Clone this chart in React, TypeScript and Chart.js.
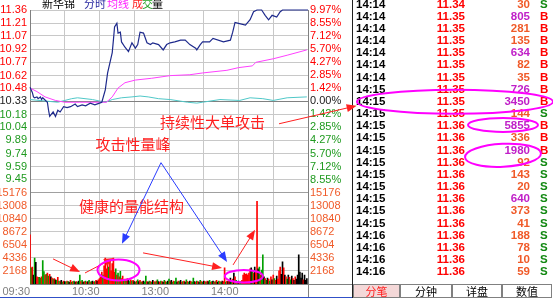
import React, { useEffect, useRef } from "react";
import { Chart, registerables } from "chart.js";

Chart.register(...registerables);

// ---------- data ----------
const PREV_CLOSE = 10.33;
const PRICE_MIN = 9.3;
const PRICE_MAX = 11.36;
const PCT_LIMIT = 9.97;
const VOL_MAX = 15176;

const priceTicks = [11.36, 11.21, 11.07, 10.92, 10.77, 10.62, 10.48, 10.33, 10.18, 10.04, 9.89, 9.74, 9.59, 9.45];
const pctTicks = [9.97, 8.55, 7.12, 5.7, 4.27, 2.85, 1.42, 0, -1.42, -2.85, -4.27, -5.7, -7.12, -8.55];
const volTicks = [15176, 13008, 10840, 8672, 6504, 4336, 2168];
const timeTicks = [0, 30, 60, 90, 120, 150, 180, 210, 240];
const timeTickLabels = ["09:30", "", "10:30", "", "13:00", "", "14:00", "", ""];

const priceMinutes = [0, 2, 3, 4, 6, 7, 9, 10, 11, 15, 16, 17, 20, 22, 24, 26, 29, 32, 35, 39, 41, 45, 48, 52, 56, 60, 62, 65, 67, 71, 72, 73, 75, 76, 78, 79, 82, 85, 88, 91, 93, 95, 98, 101, 104, 106, 111, 115, 118, 121, 125, 130, 134, 138, 143, 144, 147, 149, 155, 158, 167, 173, 175, 177, 180, 186, 190, 193, 196, 200, 203, 206, 209, 213, 216, 218, 240];
const priceValues = [10.49, 10.43, 10.38, 10.37, 10.38, 10.36, 10.38, 10.35, 10.37, 10.32, 10.23, 10.16, 10.21, 10.16, 10.23, 10.21, 10.27, 10.26, 10.27, 10.3, 10.27, 10.29, 10.28, 10.31, 10.29, 10.31, 10.32, 10.46, 10.65, 10.88, 11.02, 11.17, 11.21, 11.1, 11.11, 11.0, 10.94, 10.89, 10.99, 10.93, 10.97, 11.11, 11.1, 10.99, 10.97, 10.99, 10.97, 10.91, 10.97, 10.99, 11.0, 11.02, 11.02, 10.97, 10.93, 10.91, 10.97, 11.0, 11.0, 11.04, 11.0, 11.02, 11.11, 11.22, 11.21, 11.19, 11.25, 11.34, 11.36, 11.36, 11.3, 11.25, 11.3, 11.28, 11.34, 11.36, 11.36];

const avgMinutes = [0, 6, 13, 22, 30, 43, 60, 66, 71, 76, 82, 91, 105, 121, 138, 149, 170, 180, 192, 195, 210, 222, 239];
const avgValues = [10.48, 10.44, 10.38, 10.34, 10.32, 10.32, 10.32, 10.32, 10.38, 10.48, 10.54, 10.57, 10.59, 10.62, 10.63, 10.65, 10.68, 10.71, 10.73, 10.77, 10.81, 10.85, 10.91];

const indexMinutes = [0, 24, 36, 41, 54, 65, 71, 79, 88, 95, 102, 111, 121, 136, 144, 149, 164, 181, 190, 201, 210, 222, 239];
const indexValues = [10.35, 10.32, 10.36, 10.37, 10.35, 10.32, 10.35, 10.37, 10.38, 10.39, 10.38, 10.36, 10.35, 10.32, 10.31, 10.32, 10.35, 10.34, 10.37, 10.36, 10.34, 10.37, 10.38];

// one bar per minute (0 = 09:30)
const volumes = [
  8170, 2700, 2800, 1500, 4300, 3600, 1200, 1100, 1100, 1000,
  1200, 3900, 2050, 1500, 1600, 1800, 1300, 1600, 1200, 1000,
  800, 900, 700, 600, 1100, 500, 400, 600, 300, 500,
  400, 300, 500, 400, 300, 600, 300, 400, 500, 300,
  400, 300, 500, 1500, 400, 600, 300, 400, 500, 300,
  400, 600, 300, 400, 500, 300, 400, 600, 500, 700,
  900, 1200, 2000, 1500, 3000, 4300, 2500, 3800, 2800, 4000,
  2200, 3400, 4300, 2000, 2500, 1500, 1800, 1200, 2100, 900,
  1300, 700, 800, 500, 900, 600, 400, 700, 500, 600,
  400, 300, 500, 700, 400, 600, 300, 400, 500, 300,
  1300, 400, 300, 500, 400, 300, 600, 400, 300, 500,
  700, 400, 300, 500, 400, 300, 600, 400, 300, 500,
  800, 400, 600, 300, 500, 400, 1000, 300, 500, 400,
  600, 300, 400, 500, 300, 700, 400, 300, 500, 400,
  300, 1000, 400, 300, 500, 400, 300, 600, 400, 300,
  500, 400, 300, 500, 400, 600, 300, 400, 500, 300,
  400, 600, 300, 500, 400, 300, 500, 400, 2670, 300,
  500, 400, 600, 1000, 500, 800, 1800, 1200, 600, 400,
  500, 300, 400, 600, 1500, 1800, 1600, 1700, 1500, 1800,
  2500, 2700, 2300, 1800, 2800, 2000, 13730, 2500, 2800, 1500,
  2300, 4840, 1200, 900, 600, 1000, 800, 500, 1200, 700,
  1500, 900, 600, 1300, 800, 2200, 2800, 1600, 3700, 2700,
  1500, 1200, 800, 1500, 1100, 700, 1300, 900, 600, 1200,
  800, 1500, 4840, 2000, 1000, 1800, 700, 1500, 600, 900,
];
// r = up, g = down, k = flat
const volumeDirs =
  "rgrkgkrrgg" + "rggrgrgrkr" + "grkgrgrkgr" + "kgrgkrgrgk" + "rgkgrgkrgr" + "kgrgkrgrkr" +
  "rrrgrrrrgr" + "rrrrgrgrgr" + "rgrgrkgrgr" + "kgrgkrgrkg" + "grkgrgkrgr" + "gkrgrkgrgk" +
  "grkgrggkrg" + "krgrkgrgkr" + "ggkrgrkgrg" + "krgrkgrgkr" + "grkgrgkrrg" + "rkrkgrkrgr" +
  "krgrrrrrrr" + "rkgrkrrkgr" + "ggkrgkrgrk" + "rgrkrrrkkr" + "krgkrgkrkr" + "kkkkkkrkkk";

// trade ticker (分笔)
const tradeTimes = ["14:14", "14:14", "14:14", "14:14", "14:14", "14:14", "14:14", "14:15", "14:15", "14:15", "14:15", "14:15", "14:15", "14:15", "14:15", "14:15", "14:15", "14:15", "14:15", "14:16", "14:16", "14:16", "14:16"];
const tradePrices = ["11.34", "11.35", "11.35", "11.35", "11.35", "11.35", "11.35", "11.35", "11.35", "11.35", "11.36", "11.36", "11.36", "11.36", "11.36", "11.36", "11.36", "11.36", "11.36", "11.36", "11.36", "11.36", "11.36"];
const tradeVols = [30, 805, 281, 135, 634, 82, 35, 726, 3450, 144, 5855, 336, 1980, 92, 143, 20, 640, 373, 41, 188, 78, 10, 59];
const tradeSides = ["S", "B", "B", "B", "B", "B", "B", "B", "B", "S", "B", "B", "B", "S", "S", "S", "S", "S", "S", "S", "S", "S", "S"];
const tabLabels = ["分笔", "分钟", "详盘", "数值"];

// annotations (data coordinates)
const noteTexts = [
  { text: "持续性大单攻击", m: 157.6, axis: "yPrice", v: 10.09 },
  { text: "攻击性量峰", m: 89, axis: "yPrice", v: 9.84 },
  { text: "健康的量能结构", m: 87.6, axis: "yVol", v: 12850 },
];
const redArrows = [
  { m1: 19.9, a1: "yVol", v1: 4170, m2: 43.2, a2: "yVol", v2: 2000 },
  { m1: 47.5, a1: "yVol", v1: 1835, m2: 72.5, a2: "yVol", v2: 4340 },
  { m1: 97.6, a1: "yVol", v1: 5170, m2: 165.8, a2: "yVol", v2: 2670 },
  { m1: 175.3, a1: "yVol", v1: 3170, m2: 194.3, a2: "yVol", v2: 9000 },
  { m1: 215, a1: "yPrice", v1: 10.077, m2: 282, a2: "yPrice", v2: 10.28 },
];
const blueApex = { m: 113.1, axis: "yPrice", v: 9.638 };
const blueEnds = [
  { m: 79.4, axis: "yVol", v: 6672 },
  { m: 170.1, axis: "yVol", v: 3670 },
];
const volEllipses = [
  { m: 76.4, axis: "yVol", v: 2335, rx: 21, ry: 10.5 },
  { m: 184.6, axis: "yVol", v: 1285, rx: 19, ry: 6.3 },
];
// ticker ellipses: row index (may be fractional), centre offset from table left, radii
const rowEllipses = [
  { row: 8, dx: 103, rx: 98, ry: 12, rot: 0 },
  { row: 9.9, dx: 151, rx: 35, ry: 7, rot: 0 },
  { row: 12.4, dx: 151, rx: 38, ry: 11.5, rot: -0.05 },
];

// ---------- styles ----------
const RED = "#ff0000";
const GREEN = "#1f9a1f";
const ORANGE = "#f05a28";
const PURPLE = "#c020c8";
const FONT = '"Liberation Sans", Arial, sans-serif';
const CJK = '"Noto Sans CJK SC", sans-serif';

function drawArrow(ctx: CanvasRenderingContext2D, x1: number, y1: number, x2: number, y2: number, color: string) {
  const ang = Math.atan2(y2 - y1, x2 - x1);
  const hl = 10;
  const hw = 4;
  ctx.save();
  ctx.strokeStyle = color;
  ctx.fillStyle = color;
  ctx.lineWidth = 1;
  ctx.beginPath();
  ctx.moveTo(x1, y1);
  ctx.lineTo(x2 - Math.cos(ang) * hl * 0.7, y2 - Math.sin(ang) * hl * 0.7);
  ctx.stroke();
  ctx.beginPath();
  ctx.moveTo(x2, y2);
  ctx.lineTo(x2 - hl * Math.cos(ang) + hw * Math.sin(ang), y2 - hl * Math.sin(ang) - hw * Math.cos(ang));
  ctx.lineTo(x2 - hl * Math.cos(ang) - hw * Math.sin(ang), y2 - hl * Math.sin(ang) + hw * Math.cos(ang));
  ctx.closePath();
  ctx.fill();
  ctx.restore();
}

const overlayPlugin = {
  id: "overlay",
  beforeDraw(chart: any) {
    const ctx = chart.ctx as CanvasRenderingContext2D;
    ctx.save();
    ctx.fillStyle = "#ffffff";
    ctx.fillRect(0, 0, chart.width, chart.height);
    ctx.restore();
  },
  afterDraw(chart: any) {
    const ctx = chart.ctx as CanvasRenderingContext2D;
    const xs = chart.scales.x;
    const px = (m: number) => xs.getPixelForValue(m);
    const py = (axis: string, v: number) => chart.scales[axis].getPixelForValue(v);
    const area = chart.chartArea;
    const W = chart.width;
    const H = chart.height;
    const tableLeft = 352;

    ctx.save();
    // header
    ctx.textBaseline = "alphabetic";
    ctx.textAlign = "left";
    ctx.font = `11px ${CJK}`;
    const hy = 7.5;
    ctx.fillStyle = "#000000";
    ctx.fillText("新华锦", area.left + 12, hy);
    ctx.fillStyle = "#2828a0";
    ctx.fillText("分时", area.left + 54, hy);
    ctx.fillStyle = "#ff20ff";
    ctx.fillText("均线", area.left + 77, hy);
    ctx.fillStyle = "#ff2020";
    ctx.fillText("成", area.left + 102, hy);
    ctx.fillStyle = "#20a020";
    ctx.fillText("交", area.left + 112, hy);
    ctx.fillStyle = "#000000";
    ctx.fillText("量", area.left + 122, hy);

    // right-axis bottom line & separators
    ctx.strokeStyle = "#808080";
    ctx.lineWidth = 1;
    ctx.beginPath();
    ctx.moveTo(area.right, area.bottom + 0.5);
    ctx.lineTo(tableLeft, area.bottom + 0.5);
    ctx.moveTo(area.right + 0.5, area.bottom);
    ctx.lineTo(area.right + 0.5, H);
    ctx.stroke();
    ctx.strokeStyle = "#202020";
    ctx.beginPath();
    ctx.moveTo(tableLeft + 0.5, 0);
    ctx.lineTo(tableLeft + 0.5, H);
    ctx.stroke();
    // bottom blue line
    ctx.strokeStyle = "#3050c8";
    ctx.beginPath();
    ctx.moveTo(0, H - 0.5);
    ctx.lineTo(tableLeft, H - 0.5);
    ctx.stroke();

    // ticker table
    const rowY0 = 4.5;
    const rowH = 12.16;
    ctx.font = `bold 11.5px ${FONT}`;
    ctx.textBaseline = "middle";
    for (let i = 0; i < tradeTimes.length; i++) {
      const y = rowY0 + i * rowH;
      ctx.textAlign = "left";
      ctx.fillStyle = "#000000";
      ctx.fillText(tradeTimes[i], tableLeft + 4, y);
      ctx.textAlign = "right";
      ctx.fillStyle = RED;
      ctx.fillText(tradePrices[i], tableLeft + 113, y);
      ctx.fillStyle = tradeVols[i] >= 500 ? PURPLE : ORANGE;
      ctx.fillText(String(tradeVols[i]), tableLeft + 178, y);
      ctx.textAlign = "left";
      ctx.fillStyle = tradeSides[i] === "B" ? RED : "#118811";
      ctx.fillText(tradeSides[i], tableLeft + 188, y);
    }

    // tabs
    const tabTop = 284;
    const tabEdges = [tableLeft + 1, 400, 452, 502, W - 1];
    ctx.font = `11px ${CJK}`;
    ctx.textAlign = "center";
    for (let i = 0; i < tabLabels.length; i++) {
      const x0 = tabEdges[i];
      const x1 = tabEdges[i + 1];
      ctx.fillStyle = i === 0 ? "#f4d8d8" : "#ffffff";
      ctx.fillRect(x0, tabTop, x1 - x0, H - tabTop);
      ctx.strokeStyle = "#808080";
      ctx.strokeRect(x0 + 0.5, tabTop + 0.5, x1 - x0 - 1, H - tabTop - 1);
      ctx.fillStyle = i === 0 ? "#ff2020" : "#000000";
      ctx.fillText(tabLabels[i], (x0 + x1) / 2, tabTop + 7.5);
    }

    // annotation texts
    ctx.font = `15px ${CJK}`;
    ctx.textAlign = "center";
    ctx.textBaseline = "middle";
    ctx.fillStyle = "#ff2020";
    for (const t of noteTexts) {
      ctx.fillText(t.text, px(t.m), py(t.axis, t.v));
    }

    // arrows
    for (const a of redArrows) {
      drawArrow(ctx, px(a.m1), py(a.a1, a.v1), px(a.m2), py(a.a2, a.v2), "#ff2020");
    }
    for (const e of blueEnds) {
      drawArrow(ctx, px(blueApex.m), py(blueApex.axis, blueApex.v), px(e.m), py(e.axis, e.v), "#2a3cff");
    }

    // ellipses
    ctx.strokeStyle = "#ff00ff";
    ctx.lineWidth = 2;
    for (const e of volEllipses) {
      ctx.beginPath();
      ctx.ellipse(px(e.m), py(e.axis, e.v), e.rx, e.ry, 0, 0, Math.PI * 2);
      ctx.stroke();
    }
    for (const e of rowEllipses) {
      ctx.beginPath();
      ctx.ellipse(tableLeft + e.dx, rowY0 + e.row * rowH, e.rx, e.ry, e.rot, 0, Math.PI * 2);
      ctx.stroke();
    }
    ctx.restore();
  },
};

export default function App() {
  const ref = useRef<HTMLCanvasElement>(null);

  useEffect(() => {
    document.body.style.margin = "0";
    const canvas = ref.current!;
    const barColors = volumes.map((_, i) => {
      const d = volumeDirs[i];
      return d === "r" ? "#ff0000" : d === "g" ? "#00a000" : "#000000";
    });

    const zeroPad = (s: any) => {
      s.paddingTop = 0;
      s.paddingBottom = 0;
      s.paddingLeft = 0;
      s.paddingRight = 0;
    };

    const chart = new Chart(canvas, {
      type: "bar",
      data: {
        datasets: [
          {
            type: "line",
            data: priceMinutes.map((m, i) => ({ x: m, y: priceValues[i] })),
            yAxisID: "yPrice",
            borderColor: "#1e2a8c",
            borderWidth: 1.2,
            pointRadius: 0,
            tension: 0,
            clip: 4,
          } as any,
          {
            type: "line",
            data: avgMinutes.map((m, i) => ({ x: m, y: avgValues[i] })),
            yAxisID: "yPrice",
            borderColor: "#ff40ff",
            borderWidth: 1,
            pointRadius: 0,
            tension: 0,
          } as any,
          {
            type: "line",
            data: indexMinutes.map((m, i) => ({ x: m, y: indexValues[i] })),
            yAxisID: "yPrice",
            borderColor: "#50c8c8",
            borderWidth: 1,
            pointRadius: 0,
            tension: 0,
          } as any,
          {
            type: "bar",
            data: volumes.map((v, i) => ({ x: i, y: v })),
            yAxisID: "yVol",
            backgroundColor: barColors,
            borderWidth: 0,
            barThickness: 1,
          } as any,
        ],
      },
      options: {
        responsive: false,
        animation: false,
        devicePixelRatio: 1,
        events: [],
        layout: { padding: { left: 0, right: 201, top: 10, bottom: 0 } },
        plugins: {
          legend: { display: false },
          tooltip: { enabled: false },
          title: { display: false },
        },
        scales: {
          x: {
            type: "linear",
            min: 0,
            max: 240,
            offset: false,
            afterBuildTicks: (s: any) => {
              s.ticks = timeTicks.map((v) => ({ value: v }));
            },
            afterFit: (s: any) => {
              s.height = 14;
              zeroPad(s);
            },
            grid: { color: "#c8c8c8", drawTicks: false, offset: false },
            border: { display: true, color: "#808080" },
            ticks: {
              autoSkip: false,
              maxRotation: 0,
              align: "end",
              padding: 1,
              color: "#808080",
              font: { family: FONT, size: 11 },
              callback: (v: any) => {
                const i = timeTicks.indexOf(Number(v));
                return i >= 0 ? timeTickLabels[i] : "";
              },
            },
          },
          yVol: {
            type: "linear",
            position: "left",
            stack: "L",
            stackWeight: 7,
            min: 0,
            max: VOL_MAX,
            afterBuildTicks: (s: any) => {
              s.ticks = volTicks.map((v) => ({ value: v }));
            },
            afterFit: (s: any) => {
              s.width = 30;
              zeroPad(s);
            },
            grid: {
              color: (c: any) => (c.tick && c.tick.value === VOL_MAX ? "#a0a0a0" : "#c8c8c8"),
              drawTicks: false,
            },
            border: { display: true, color: "#808080" },
            ticks: {
              autoSkip: false,
              padding: 3,
              color: ORANGE,
              font: { family: FONT, size: 11 },
              callback: (v: any) => String(v),
            },
          },
          yPrice: {
            type: "linear",
            position: "left",
            stack: "L",
            stackWeight: 14,
            min: PRICE_MIN,
            max: PRICE_MAX,
            afterBuildTicks: (s: any) => {
              s.ticks = priceTicks.map((v) => ({ value: v }));
            },
            afterFit: (s: any) => {
              s.width = 30;
              zeroPad(s);
            },
            grid: {
              color: (c: any) => (c.tick && c.tick.value === PREV_CLOSE ? "#808080" : "#c8c8c8"),
              drawTicks: false,
            },
            border: { display: true, color: "#808080" },
            ticks: {
              autoSkip: false,
              padding: 3,
              font: { family: FONT, size: 11 },
              color: (c: any) => (c.tick.value > PREV_CLOSE ? RED : c.tick.value < PREV_CLOSE ? GREEN : "#202020"),
              callback: (v: any) => Number(v).toFixed(2),
            },
          },
          yPct: {
            type: "linear",
            position: "right",
            stack: "R",
            stackWeight: 14,
            min: -PCT_LIMIT,
            max: PCT_LIMIT,
            afterBuildTicks: (s: any) => {
              s.ticks = pctTicks.map((v) => ({ value: v }));
            },
            afterFit: (s: any) => {
              s.width = 44;
              zeroPad(s);
            },
            grid: { display: false, drawOnChartArea: false, drawTicks: false },
            border: { display: true, color: "#808080" },
            ticks: {
              autoSkip: false,
              padding: 2,
              font: { family: FONT, size: 11 },
              color: (c: any) => (c.tick.value > 0 ? RED : c.tick.value < 0 ? GREEN : "#202020"),
              callback: (v: any) => Math.abs(Number(v)).toFixed(2) + "%",
            },
          },
          yVolR: {
            type: "linear",
            position: "right",
            stack: "R",
            stackWeight: 7,
            min: 0,
            max: VOL_MAX,
            afterBuildTicks: (s: any) => {
              s.ticks = volTicks.map((v) => ({ value: v }));
            },
            afterFit: (s: any) => {
              s.width = 44;
              zeroPad(s);
            },
            grid: { display: false, drawOnChartArea: false, drawTicks: false },
            border: { display: true, color: "#808080" },
            ticks: {
              autoSkip: false,
              padding: 2,
              color: ORANGE,
              font: { family: FONT, size: 11 },
              callback: (v: any) => String(v),
            },
          },
        } as any,
      },
      plugins: [overlayPlugin],
    });
    return () => chart.destroy();
  }, []);

  return <canvas ref={ref} width={553} height={298} style={{ display: "block", width: 553, height: 298 }} />;
}
